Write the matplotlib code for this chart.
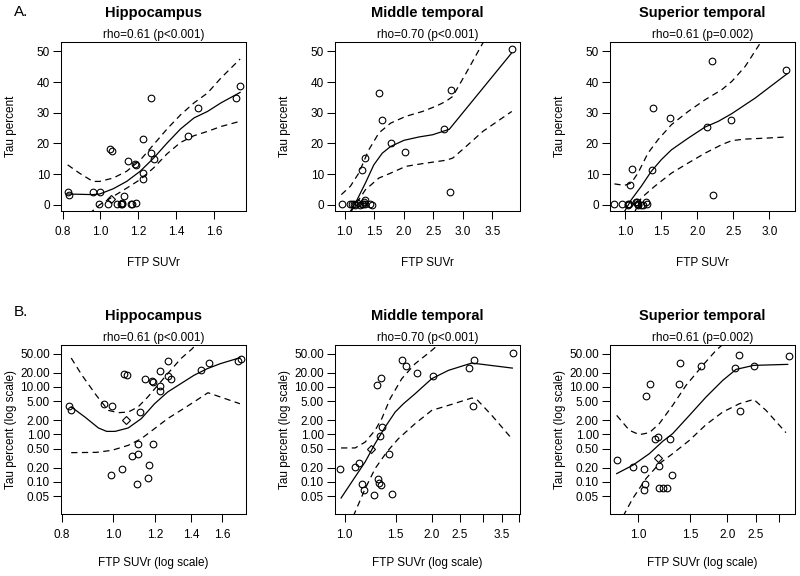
import numpy as np
import matplotlib
matplotlib.use('Agg')
import matplotlib.pyplot as plt

plt.rcParams['font.family'] = ['Liberation Sans', 'DejaVu Sans']
plt.rcParams['lines.scale_dashes'] = False

# ---- data ----
regions = ['Hippocampus', 'Middle temporal', 'Superior temporal']
rho_text = ['rho=0.61 (p<0.001)', 'rho=0.70 (p<0.001)', 'rho=0.61 (p=0.002)']

hip_x = [0.827, 0.833, 0.962, 0.996, 0.992, 1.038, 1.048, 1.060, 1.058, 1.122,
         1.086, 1.111, 1.114, 1.110, 1.146, 1.180, 1.186, 1.165, 1.160, 1.186,
         1.222, 1.223, 1.222, 1.268, 1.267, 1.284, 1.460, 1.515, 1.716, 1.736]
hip_y = [4.0, 3.2, 4.3, 4.0, 0.14, 0.19, 18.3, 17.6, 2.0, 2.9,
         0.35, 0.38, 0.62, 0.09, 14.4, 13.4, 12.9, 0.23, 0.12, 0.64,
         21.4, 10.5, 8.4, 34.8, 16.9, 14.8, 22.5, 31.6, 34.8, 38.6]
hip_diamond = 8

mid_x = [0.96, 1.086, 1.124, 1.151, 1.170, 1.230, 1.260, 1.290, 1.300, 1.314,
         1.336, 1.325, 1.335, 1.350, 1.424, 1.454, 1.583, 1.634, 1.780, 2.024,
         2.685, 2.803, 2.775, 3.83]
mid_y = [0.19, 0.21, 0.25, 0.092, 0.068, 0.50, 0.052, 11.2, 0.114, 0.097,
         0.085, 0.93, 15.1, 1.43, 0.38, 0.055, 36.4, 27.6, 20.0, 17.1,
         24.8, 37.5, 4.0, 50.8]
mid_diamond = 5

sup_x = [0.849, 0.962, 1.045, 1.045, 1.056, 1.062, 1.10, 1.144, 1.165, 1.165,
         1.18, 1.174, 1.218, 1.253, 1.286, 1.303, 1.37, 1.385, 1.628, 2.128,
         2.198, 2.214, 2.47, 3.225]
sup_y = [0.29, 0.21, 0.185, 0.067, 0.092, 6.3, 11.6, 0.82, 0.88, 0.32,
         0.22, 0.076, 0.076, 0.076, 0.82, 0.14, 11.3, 31.6, 28.2, 25.3,
         47.0, 3.1, 27.5, 44.0]
sup_diamond = 9

# fitted curves, linear panels
hip_fit_x = [0.827, 0.96, 0.996, 1.067, 1.138, 1.209, 1.28, 1.351, 1.422, 1.493, 1.564, 1.635, 1.736]
hip_fit_y = [3.5, 3.3, 3.5, 5.2, 7.6, 10.9, 15.2, 20.1, 24.7, 28.3, 30.4, 33.2, 36.6]
hip_upr_x = [0.827, 0.889, 0.96, 0.996, 1.067, 1.138, 1.209, 1.28, 1.351, 1.422, 1.493, 1.564, 1.635, 1.736]
hip_upr_y = [13.0, 10.3, 7.6, 7.6, 8.7, 10.9, 14.5, 19.6, 24.7, 29.3, 33.2, 36.4, 41.3, 47.5]
hip_lwr_x = [0.94, 0.996, 1.067, 1.138, 1.209, 1.28, 1.351, 1.422, 1.493, 1.564, 1.635, 1.736]
hip_lwr_y = [-3.0, 0.0, 2.7, 5.4, 8.2, 12.0, 16.6, 20.3, 22.5, 23.9, 25.5, 27.2]

mid_fit_x = [1.094, 1.208, 1.35, 1.492, 1.635, 1.777, 2.004, 2.26, 2.487, 2.772, 3.83]
mid_fit_y = [-2.2, 1.6, 7.1, 13.0, 16.8, 19.0, 21.0, 22.1, 22.8, 24.6, 49.5]
mid_upr_x = [0.941, 1.094, 1.237, 1.407, 1.578, 1.777, 2.033, 2.317, 2.544, 2.715, 2.829, 3.056, 3.34, 3.5]
mid_upr_y = [3.3, 6.0, 10.3, 17.9, 23.4, 26.6, 28.8, 30.4, 32.1, 33.7, 35.3, 42.9, 52.7, 58.0]
mid_lwr_x = [1.10, 1.35, 1.578, 1.777, 2.033, 2.317, 2.715, 2.829, 3.056, 3.34, 3.83]
mid_lwr_y = [-2.4, 4.9, 8.7, 10.3, 12.5, 13.4, 14.5, 15.2, 19.0, 23.9, 30.4]

sup_fit_x = [0.991, 1.084, 1.223, 1.363, 1.502, 1.642, 1.874, 2.107, 2.293, 2.479, 2.805, 3.247]
sup_fit_y = [-2.2, 1.6, 6.0, 10.9, 14.7, 17.9, 21.7, 25.3, 27.2, 29.7, 34.8, 42.7]
sup_upr_x = [0.851, 0.991, 1.084, 1.177, 1.316, 1.456, 1.642, 1.874, 2.107, 2.34, 2.479, 2.665, 2.86, 2.95]
sup_upr_y = [6.8, 6.3, 7.1, 10.3, 16.8, 21.2, 26.1, 30.4, 34.2, 37.5, 40.2, 45.1, 52.2, 56.0]
sup_lwr_x = [1.12, 1.223, 1.409, 1.642, 1.874, 2.107, 2.34, 2.479, 2.665, 2.944, 3.247]
sup_lwr_y = [-3.0, 2.2, 6.0, 10.3, 13.6, 16.8, 19.6, 20.9, 21.4, 21.7, 22.1]

# fitted curves, log panels
hip_lfit_x = [0.834, 0.886, 0.938, 0.972, 1.008, 1.067, 1.129, 1.195, 1.265, 1.339, 1.417, 1.500, 1.588, 1.729]
hip_lfit_y = [3.8, 2.3, 1.37, 1.16, 1.16, 1.37, 2.15, 4.4, 7.8, 11.7, 17.5, 24.1, 30.8, 41.1]
hip_lupr_x = [0.834, 0.874, 0.930, 0.979, 1.022, 1.067, 1.113, 1.161, 1.212, 1.265, 1.339, 1.407, 1.45]
hip_lupr_y = [40.5, 17.5, 6.6, 3.21, 2.87, 2.96, 3.78, 6.13, 10.8, 18.9, 39.2, 63.6, 95.0]
hip_llwr_x = [0.834, 0.93, 0.994, 1.067, 1.129, 1.195, 1.265, 1.339, 1.417, 1.506, 1.729]
hip_llwr_y = [0.414, 0.42, 0.463, 0.59, 0.815, 1.32, 2.15, 3.21, 4.81, 7.55, 4.43]

mid_lfit_x = [0.971, 1.057, 1.176, 1.273, 1.379, 1.494, 1.596, 1.752, 2.0, 2.284, 2.751, 3.80]
mid_lfit_y = [0.046, 0.10, 0.264, 0.64, 1.43, 2.96, 4.43, 7.2, 14.9, 22.3, 31.8, 24.9]
mid_lupr_x = [0.971, 1.086, 1.176, 1.273, 1.343, 1.435, 1.575, 1.752, 2.0, 2.166]
mid_lupr_y = [0.52, 0.52, 0.69, 1.22, 2.15, 5.65, 14.9, 30.8, 58.6, 90.0]
mid_llwr_x = [1.07, 1.176, 1.273, 1.398, 1.533, 1.752, 2.0, 2.284, 2.751, 2.862, 3.227, 3.784]
mid_llwr_y = [0.019, 0.072, 0.191, 0.428, 0.815, 1.69, 3.21, 4.09, 5.84, 5.47, 2.52, 0.815]

sup_lfit_x = [0.847, 0.959, 1.092, 1.211, 1.309, 1.491, 1.697, 1.932, 2.144, 2.459, 3.203]
sup_lfit_y = [0.15, 0.224, 0.394, 0.716, 1.04, 2.52, 6.13, 13.7, 23.4, 28.4, 29.8]
sup_lupr_x = [0.847, 0.935, 1.01, 1.092, 1.18, 1.309, 1.453, 1.654, 1.834, 1.983]
sup_lupr_y = [2.52, 1.22, 0.99, 1.09, 1.69, 4.09, 10.8, 28.4, 58.7, 90.0]
sup_llwr_x = [0.89, 0.959, 1.064, 1.18, 1.309, 1.491, 1.697, 1.932, 2.2, 2.459, 2.706, 3.16]
sup_llwr_y = [0.019, 0.0447, 0.118, 0.243, 0.394, 0.752, 1.61, 2.96, 4.43, 5.47, 3.21, 1.09]

# axis settings
lin_xlims = [(0.792, 1.767), (0.834, 3.97), (0.79, 3.355)]
lin_xticks = [[0.8, 1.0, 1.2, 1.4, 1.6], [1.0, 1.5, 2.0, 2.5, 3.0, 3.5], [1.0, 1.5, 2.0, 2.5, 3.0]]
log_xlims = [(0.798, 1.775), (0.925, 4.04), (0.804, 3.39)]
log_xticks = [[0.8, 1.0, 1.2, 1.4, 1.6], [1.0, 1.5, 2.0, 2.5, 3.0, 3.5, 4.0], [1.0, 1.5, 2.0, 2.5, 3.0]]
log_xlabels = [['0.8', '1.0', '1.2', '1.4', '1.6'],
               ['1.0', '1.5', '2.0', '2.5', '', '3.5', ''],
               ['1.0', '1.5', '2.0', '2.5', '']]
lin_yticks = [0, 10, 20, 30, 40, 50]
log_yticks = [0.05, 0.1, 0.2, 0.5, 1, 2, 5, 10, 20, 50]
log_ylabels = ['0.05', '0.10', '0.20', '0.50', '1.00', '2.00', '5.00', '10.00', '20.00', '50.00']

pts = [(hip_x, hip_y, hip_diamond), (mid_x, mid_y, mid_diamond), (sup_x, sup_y, sup_diamond)]
lin_curves = [
    [(hip_fit_x, hip_fit_y), (hip_upr_x, hip_upr_y), (hip_lwr_x, hip_lwr_y)],
    [(mid_fit_x, mid_fit_y), (mid_upr_x, mid_upr_y), (mid_lwr_x, mid_lwr_y)],
    [(sup_fit_x, sup_fit_y), (sup_upr_x, sup_upr_y), (sup_lwr_x, sup_lwr_y)],
]
log_curves = [
    [(hip_lfit_x, hip_lfit_y), (hip_lupr_x, hip_lupr_y), (hip_llwr_x, hip_llwr_y)],
    [(mid_lfit_x, mid_lfit_y), (mid_lupr_x, mid_lupr_y), (mid_llwr_x, mid_llwr_y)],
    [(sup_lfit_x, sup_lfit_y), (sup_lupr_x, sup_lupr_y), (sup_llwr_x, sup_llwr_y)],
]

W, H = 800, 576
fig = plt.figure(figsize=(8, 5.76), dpi=100)
col_left = [61, 335, 610]
ax_w = 185
ax_h = 169
row_top = [42, 345]

FS = 8.5
lw = 0.75


def draw_points(ax, x, y, dia):
    xs = [v for i, v in enumerate(x) if i != dia]
    ys = [v for i, v in enumerate(y) if i != dia]
    ax.plot(xs, ys, 'o', mfc='none', mec='black', ms=4.8, mew=0.8, zorder=3)
    ax.plot([x[dia]], [y[dia]], 'D', mfc='none', mec='black', ms=4.5, mew=0.8, zorder=3)


def style_axes(ax):
    for s in ax.spines.values():
        s.set_linewidth(lw)
    ax.tick_params(direction='out', length=5.5, width=lw, labelsize=FS, colors='black')
    ax.tick_params(axis='x', pad=5)
    ax.tick_params(axis='y', pad=2.5)
    ax.minorticks_off()


for row in range(2):
    for c in range(3):
        left = col_left[c] / W
        bottom = 1 - (row_top[row] + ax_h) / H
        ax = fig.add_axes([left, bottom, ax_w / W, ax_h / H])
        x, y, dia = pts[c]
        curves = lin_curves[c] if row == 0 else log_curves[c]
        if row == 1:
            ax.set_xscale('log')
            ax.set_yscale('log')
        fx, fy = curves[0]
        ax.plot(fx, fy, color='black', lw=0.9)
        for ux, uy in curves[1:]:
            ax.plot(ux, uy, color='black', lw=0.9, linestyle=(0, (4.5, 3.2)))
        draw_points(ax, x, y, dia)
        if row == 0:
            ax.set_xlim(*lin_xlims[c])
            ax.set_ylim(-2.04, 53.04)
            ax.set_xticks(lin_xticks[c])
            ax.set_xticklabels(['%.1f' % v for v in lin_xticks[c]])
            ax.set_yticks(lin_yticks)
            ax.set_yticklabels([str(v) for v in lin_yticks])
            xl = 'FTP SUVr'
            yl = 'Tau percent'
            xly = -0.31
        else:
            ax.set_xlim(*log_xlims[c])
            ax.set_ylim(0.0212, 76.2)
            ax.set_xticks(log_xticks[c])
            ax.set_xticklabels(log_xlabels[c])
            ax.set_yticks(log_yticks)
            ax.set_yticklabels(log_ylabels)
            xl = 'FTP SUVr (log scale)'
            yl = 'Tau percent (log scale)'
            xly = -0.292
        style_axes(ax)
        ax.text(0.5, xly, xl, transform=ax.transAxes, ha='center', va='center', fontsize=FS)
        ax.text(-0.272, 0.5, yl, transform=ax.transAxes, ha='center', va='center',
                rotation=90, fontsize=FS)
        ax.text(0.5, 1.17, regions[c], transform=ax.transAxes, ha='center', va='center',
                fontsize=10.5, fontweight='bold')
        ax.text(0.5, 1.041, rho_text[c], transform=ax.transAxes, ha='center', va='center',
                fontsize=FS)

fig.text(21 / W, 1 - 11.5 / H, 'A.', ha='center', va='center', fontsize=11)
fig.text(21 / W, 1 - 312 / H, 'B.', ha='center', va='center', fontsize=11)

fig.savefig('out.png', dpi=100, facecolor='white')
